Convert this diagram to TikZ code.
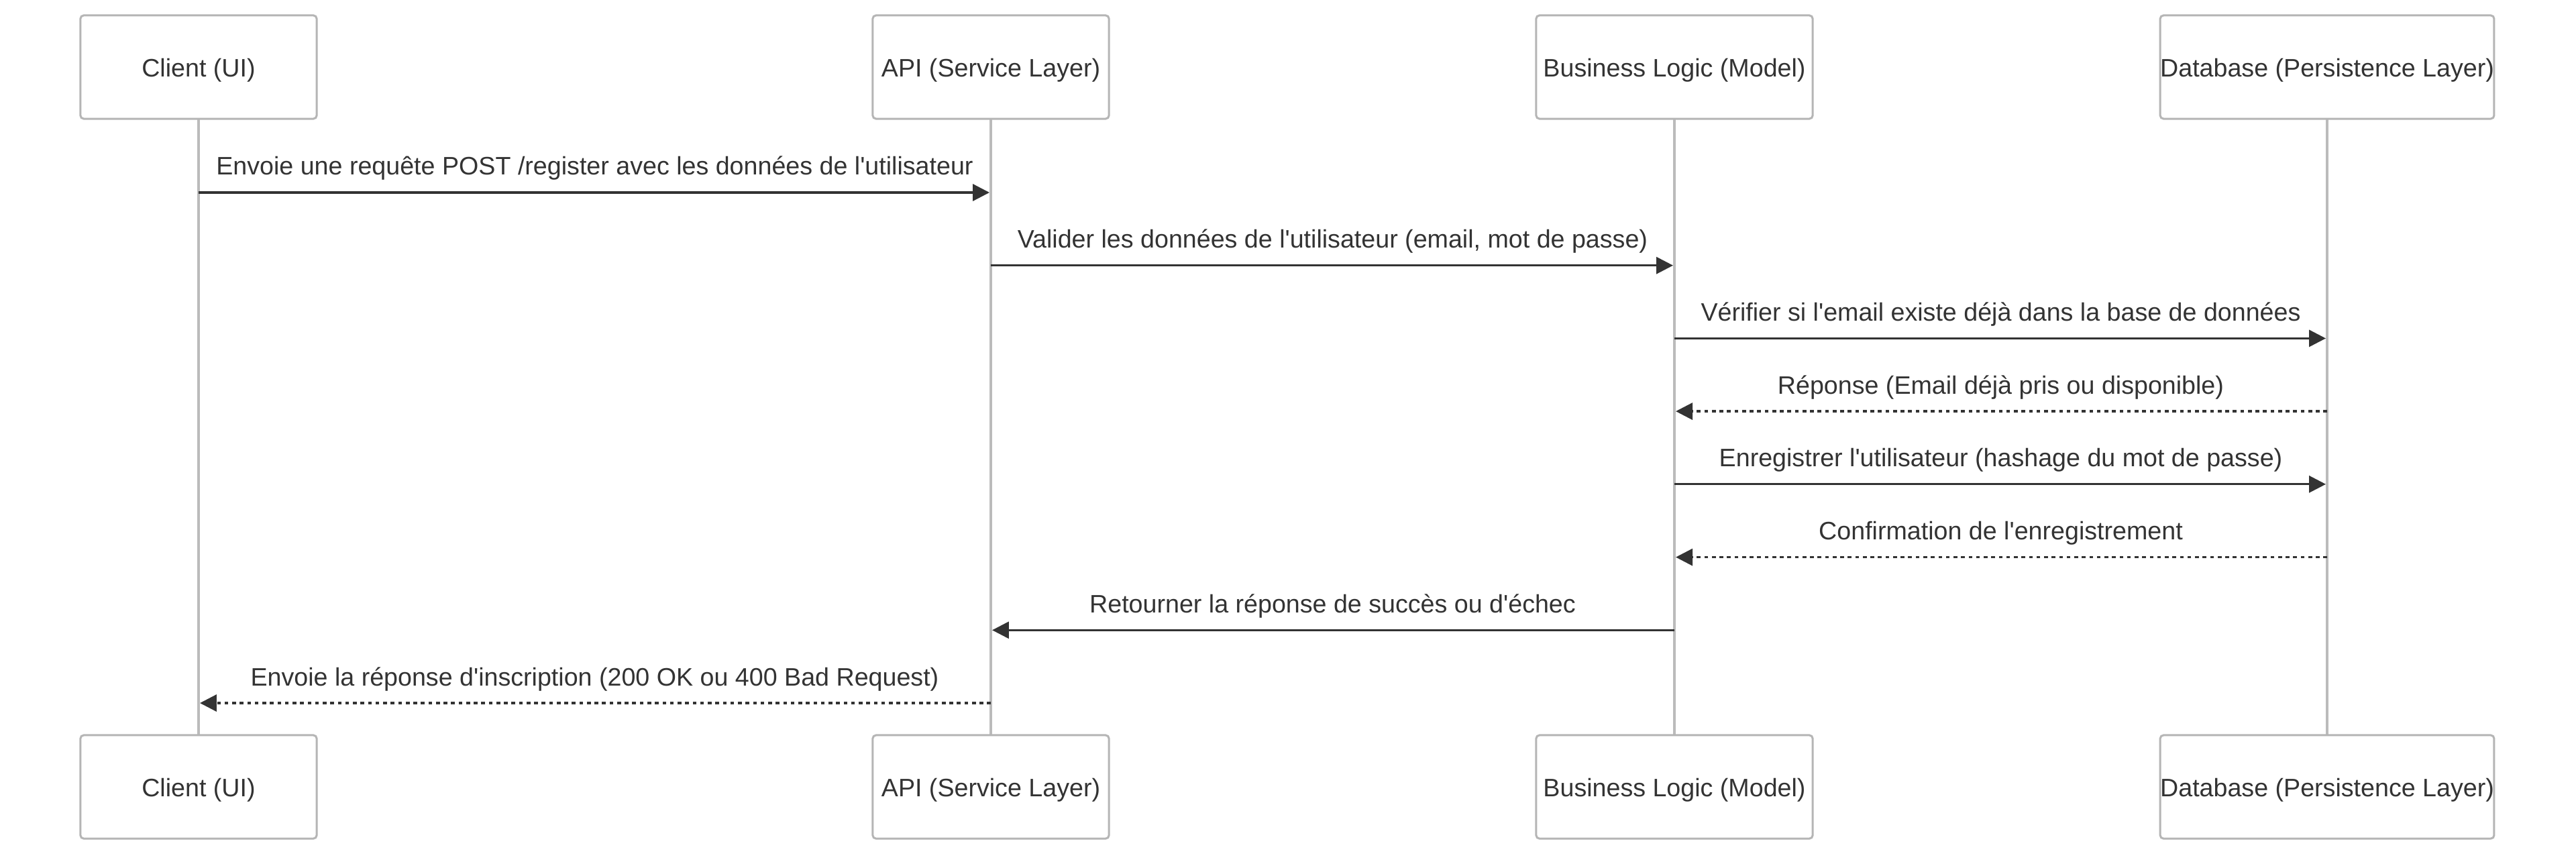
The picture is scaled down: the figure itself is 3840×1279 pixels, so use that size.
\documentclass[tikz,border=0pt]{standalone}
\usepackage{fontspec}
\newfontfamily\diafont{Liberation Sans}
\usetikzlibrary{arrows.meta,calc}
\definecolor{txt}{HTML}{333333}
\definecolor{life}{HTML}{BBBBBB}
\definecolor{boxline}{HTML}{B5B5B5}
\tikzset{
  every node/.style={font=\diafont\fontsize{10.7pt}{12.8pt}\selectfont, text=txt},
  actor/.style={draw=boxline, line width=0.85pt, fill=white, rounded corners=1.4pt,
    inner sep=0pt, minimum height=1.54cm, text height=1em, text depth=0.19em},
  lifeline/.style={draw=life, line width=1.2pt},
  msg/.style={draw=txt, line width=0.95pt, -{Triangle[length=7.1pt,width=7.1pt]}},
  reply/.style={msg, dash pattern=on 1.6pt off 1.6pt},
  msglabel/.style={anchor=base, inner sep=0pt}
}
\begin{document}
\begin{tikzpicture}[x=0.01cm, y=-0.01cm]
\fill[white] (0,0) rectangle (3840,1279);
\useasboundingbox (0,0) rectangle (3840,1279);

% lifeline anchor points
\coordinate (c1) at (296,100);
\coordinate (c2) at (1477,100);
\coordinate (c3) at (2496,100);
\coordinate (c4) at (3469,100);
\coordinate (d1) at (296,1173);
\coordinate (d2) at (1477,1173);
\coordinate (d3) at (2496,1173);
\coordinate (d4) at (3469,1173);
\draw[lifeline] (c1) -- (d1);
\draw[lifeline] (c2) -- (d2);
\draw[lifeline] (c3) -- (d3);
\draw[lifeline] (c4) -- (d4);

% actor boxes
\node[actor, minimum width=3.52cm] (a1) at (c1) {Client (UI)};
\node[actor, minimum width=3.52cm] (a2) at (c2) {API (Service Layer)};
\node[actor, minimum width=4.12cm] (a3) at (c3) {Business Logic (Model)};
\node[actor, minimum width=4.84cm] (a4) at (c4) {Database (Persistence Layer)};
\node[actor, minimum width=3.52cm] (b1) at (d1) {Client (UI)};
\node[actor, minimum width=3.52cm] (b2) at (d2) {API (Service Layer)};
\node[actor, minimum width=4.12cm] (b3) at (d3) {Business Logic (Model)};
\node[actor, minimum width=4.84cm] (b4) at (d4) {Database (Persistence Layer)};

% message endpoints on lifelines
\foreach \i/\y in {1/287, 2/395.7, 3/504.4, 4/613.1, 5/721.8, 6/830.6, 7/939.3, 8/1048}{
  \foreach \k in {1,2,3,4}{
    \coordinate (p\k-\i) at (c\k |- 0,\y);
  }
}

\draw[msg] (p1-1) -- ([xshift=-0.02cm]p2-1);
\node[msglabel] at ($(p1-1)!0.5!(p2-1)+(0,-26)$) {Envoie une requête POST /register avec les données de l'utilisateur};

\draw[msg] (p2-2) -- ([xshift=-0.02cm]p3-2);
\node[msglabel] at ($(p2-2)!0.5!(p3-2)+(0,-26)$) {Valider les données de l'utilisateur (email, mot de passe)};

\draw[msg] (p3-3) -- ([xshift=-0.02cm]p4-3);
\node[msglabel] at ($(p3-3)!0.5!(p4-3)+(0,-26)$) {Vérifier si l'email existe déjà dans la base de données};

\draw[reply] (p4-4) -- ([xshift=0.02cm]p3-4);
\node[msglabel] at ($(p3-4)!0.5!(p4-4)+(0,-26)$) {Réponse (Email déjà pris ou disponible)};

\draw[msg] (p3-5) -- ([xshift=-0.02cm]p4-5);
\node[msglabel] at ($(p3-5)!0.5!(p4-5)+(0,-26)$) {Enregistrer l'utilisateur (hashage du mot de passe)};

\draw[reply] (p4-6) -- ([xshift=0.02cm]p3-6);
\node[msglabel] at ($(p3-6)!0.5!(p4-6)+(0,-26)$) {Confirmation de l'enregistrement};

\draw[msg] (p3-7) -- ([xshift=0.02cm]p2-7);
\node[msglabel] at ($(p2-7)!0.5!(p3-7)+(0,-26)$) {Retourner la réponse de succès ou d'échec};

\draw[reply] (p2-8) -- ([xshift=0.02cm]p1-8);
\node[msglabel] at ($(p1-8)!0.5!(p2-8)+(0,-26)$) {Envoie la réponse d'inscription (200 OK ou 400 Bad Request)};
\end{tikzpicture}
\end{document}
